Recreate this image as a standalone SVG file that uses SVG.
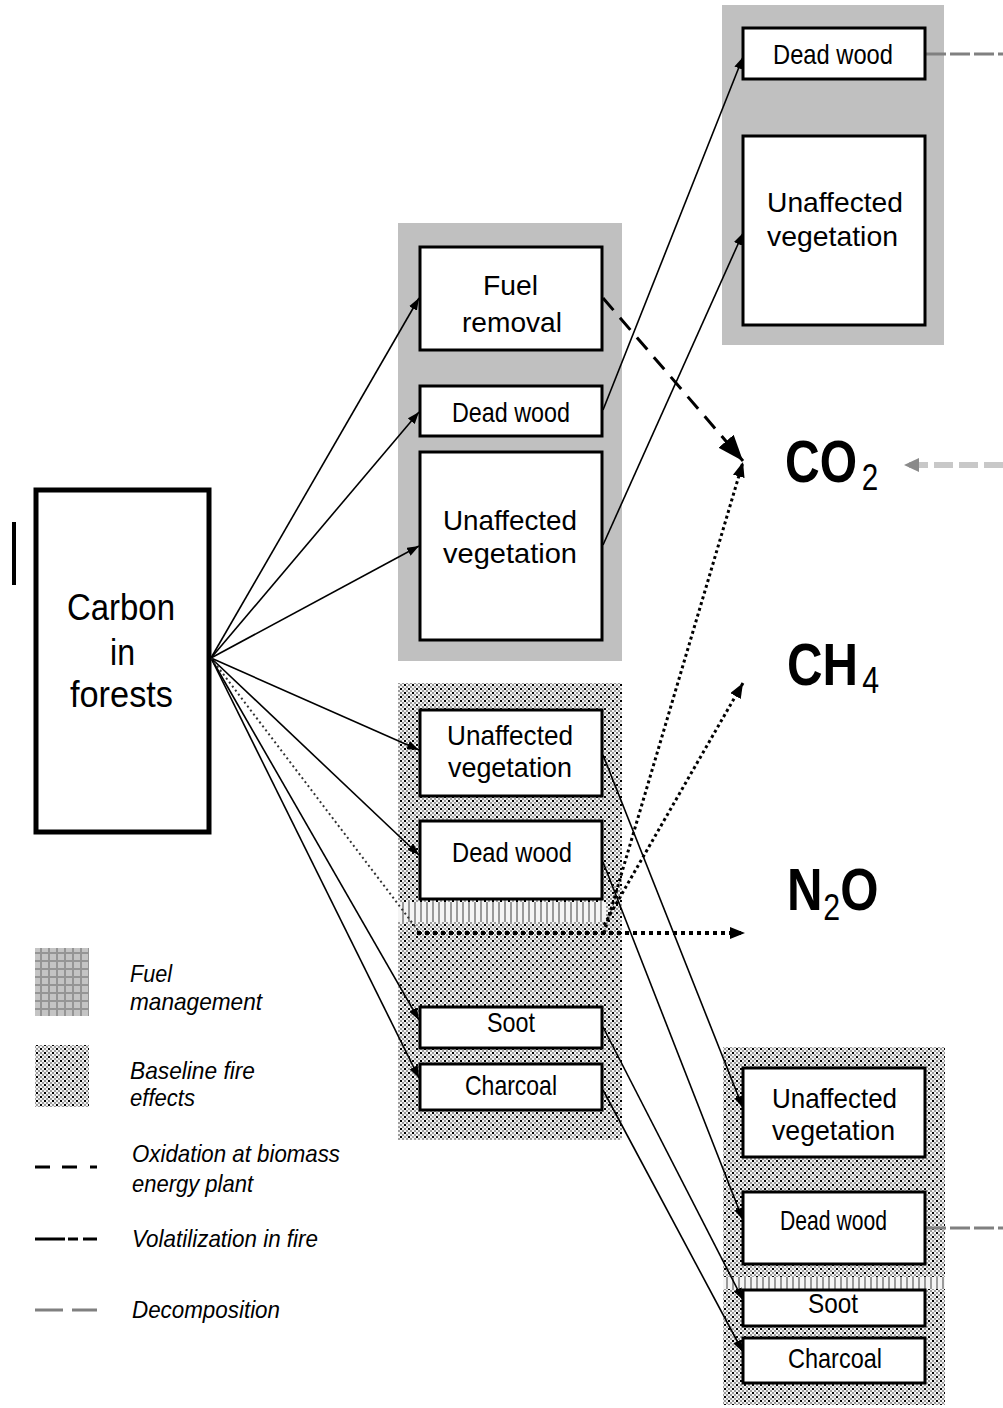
<svg xmlns="http://www.w3.org/2000/svg" width="1003" height="1408" viewBox="0 0 1003 1408">
  <defs>
    <style>
      .box{fill:#fff;stroke:#000;stroke-width:3}
      .src{fill:#fff;stroke:#000;stroke-width:5}
      .t{font-family:"Liberation Sans",Arial,sans-serif;font-size:28px;fill:#000}
      .big{font-family:"Liberation Sans",Arial,sans-serif;font-size:36px;fill:#000}
      .gas{font-family:"Liberation Sans",Arial,sans-serif;font-weight:bold;font-size:60px;fill:#000}
      .sub{font-size:37px;font-weight:normal}
      .leg{font-family:"Liberation Sans",Arial,sans-serif;font-style:italic;font-size:24px;fill:#000}
      .solid{fill:none;stroke:#000;stroke-width:1.6}
      .thin-dot{fill:none;stroke:#333;stroke-width:2;stroke-dasharray:2 3}
      .dot{fill:none;stroke:#000;stroke-width:3;stroke-dasharray:3 3}
      .heavy-dot{fill:none;stroke:#000;stroke-width:4;stroke-dasharray:4 4}
      .oxid{fill:none;stroke:#000;stroke-width:3;stroke-dasharray:16 10}
      .decay{fill:none;stroke:#808080;stroke-width:3;stroke-dasharray:20 4}
      .decay-in{fill:none;stroke:#c8c8c8;stroke-width:6;stroke-dasharray:19 6}
      .fuel{fill:#c0c0c0}
      .fire{fill:url(#fireHatch)}
    </style>
    <!-- baseline fire texture: fine grey checker with black specks -->
    <pattern id="fireHatch" width="8" height="8" patternUnits="userSpaceOnUse">
      <rect width="8" height="8" fill="#f4f4f4"/>
      <rect x="4" y="0" width="2" height="2" fill="#9c9c9c"/>
      <rect x="2" y="2" width="2" height="2" fill="#9c9c9c"/>
      <rect x="6" y="2" width="2" height="2" fill="#9c9c9c"/>
      <rect x="0" y="4" width="2" height="2" fill="#9c9c9c"/>
      <rect x="2" y="6" width="2" height="2" fill="#9c9c9c"/>
      <rect x="6" y="6" width="2" height="2" fill="#9c9c9c"/>
      <rect x="0" y="0" width="2" height="2" fill="#000"/>
      <rect x="4" y="4" width="2" height="2" fill="#000"/>
    </pattern>
    <!-- fuel management texture: grey with a darker grid -->
    <pattern id="fuelGrid" width="8" height="8" patternUnits="userSpaceOnUse">
      <rect width="8" height="8" fill="#c4c4c4"/>
      <rect x="0" y="0" width="2" height="8" fill="#959595"/>
      <rect x="0" y="0" width="8" height="2" fill="#959595"/>
    </pattern>
    <!-- vertical stripe band -->
    <pattern id="stripes" width="6" height="20" patternUnits="userSpaceOnUse">
      <rect width="6" height="20" fill="#f4f4f4"/>
      <rect x="0" y="0" width="2" height="20" fill="#9a9a9a"/>
    </pattern>
    <marker id="arr" markerUnits="userSpaceOnUse" markerWidth="12" markerHeight="9" refX="12" refY="4.5" orient="auto">
      <path d="M0,0 L12,4.5 L0,9 z" fill="#000"/>
    </marker>
    <marker id="arrDot" markerUnits="userSpaceOnUse" markerWidth="15" markerHeight="12" refX="15" refY="6" orient="auto">
      <path d="M0,0 L15,6 L0,12 z" fill="#000"/>
    </marker>
    <marker id="arrBig" markerUnits="userSpaceOnUse" markerWidth="26" markerHeight="20" refX="26" refY="10" orient="auto">
      <path d="M0,0 L26,10 L0,20 z" fill="#000"/>
    </marker>
    <marker id="arrGrey" markerUnits="userSpaceOnUse" markerWidth="15" markerHeight="14" refX="15" refY="7" orient="auto">
      <path d="M0,0 L15,7 L0,14 z" fill="#8a8a8a"/>
    </marker>
  </defs>

  <rect width="1003" height="1408" fill="#fff"/>

  <!-- background zones -->
  <g id="zones">
    <rect class="fuel" x="398" y="223" width="224" height="438"/>
    <rect class="fuel" x="722" y="5" width="222" height="340"/>
    <rect class="fire" x="398" y="683" width="224" height="457"/>
    <rect x="398" y="902" width="208" height="20" fill="url(#stripes)"/>
    <rect class="fire" x="723" y="1047" width="222" height="358"/>
    <rect x="723" y="1277" width="222" height="12" fill="url(#stripes)"/>
  </g>

  <!-- stray margin mark -->
  <line x1="14" y1="522" x2="14" y2="585" stroke="#000" stroke-width="4"/>

  <!-- flows -->
  <g id="connectors">
    <!-- from the forest carbon pool -->
    <line class="solid" x1="211" y1="658" x2="419" y2="298" marker-end="url(#arr)"/>
    <line class="solid" x1="211" y1="658" x2="419" y2="412" marker-end="url(#arr)"/>
    <line class="solid" x1="211" y1="658" x2="419" y2="546" marker-end="url(#arr)"/>
    <line class="solid" x1="211" y1="658" x2="419" y2="750" marker-end="url(#arr)"/>
    <line class="solid" x1="211" y1="658" x2="419" y2="855" marker-end="url(#arr)"/>
    <line class="solid" x1="211" y1="658" x2="419" y2="1020" marker-end="url(#arr)"/>
    <line class="solid" x1="211" y1="658" x2="419" y2="1078" marker-end="url(#arr)"/>
    <line class="thin-dot" x1="211" y1="658" x2="420" y2="933"/>

    <!-- fuel management to later pools -->
    <line class="solid" x1="603" y1="410" x2="743" y2="57" marker-end="url(#arr)"/>
    <line class="solid" x1="603" y1="545" x2="743" y2="233" marker-end="url(#arr)"/>
    <line class="oxid" x1="603" y1="298" x2="743" y2="461" marker-end="url(#arrBig)"/>

    <!-- baseline fire to later pools -->
    <line class="solid" x1="603" y1="755" x2="743" y2="1108" marker-end="url(#arr)"/>
    <line class="solid" x1="603" y1="862" x2="743" y2="1220" marker-end="url(#arr)"/>
    <line class="solid" x1="603" y1="1027" x2="743" y2="1300" marker-end="url(#arr)"/>
    <line class="solid" x1="603" y1="1090" x2="743" y2="1352" marker-end="url(#arr)"/>

    <!-- volatilization in fire -->
    <path class="heavy-dot" d="M417,933 H745" marker-end="url(#arrDot)"/>
    <line class="dot" x1="604" y1="933" x2="743" y2="462" marker-end="url(#arrDot)"/>
    <line class="dot" x1="604" y1="925" x2="743" y2="683" marker-end="url(#arrDot)"/>

    <!-- decomposition -->
    <line class="decay" x1="926" y1="54" x2="1003" y2="54"/>
    <line class="decay" x1="926" y1="1228" x2="1003" y2="1228"/>
    <line class="decay-in" x1="1003" y1="465" x2="904" y2="465" marker-end="url(#arrGrey)"/>
  </g>

  <g id="carbon-in-forests">
    <rect class="src" x="36" y="490" width="173" height="342"/>
    <text class="big" x="67" y="620" textLength="108" lengthAdjust="spacingAndGlyphs">Carbon</text>
    <text class="big" x="110" y="665" textLength="25" lengthAdjust="spacingAndGlyphs">in</text>
    <text class="big" x="70" y="707" textLength="103" lengthAdjust="spacingAndGlyphs">forests</text>
  </g>

  <g id="fuel-removal">
    <rect class="box" x="420" y="247" width="182" height="103"/>
    <text class="t" x="483" y="295" textLength="55" lengthAdjust="spacingAndGlyphs">Fuel</text>
    <text class="t" x="462" y="332" textLength="100" lengthAdjust="spacingAndGlyphs">removal</text>
  </g>
  <g id="fm-dead-wood">
    <rect class="box" x="420" y="386" width="182" height="50"/>
    <text class="t" x="452" y="422" textLength="118" lengthAdjust="spacingAndGlyphs">Dead wood</text>
  </g>
  <g id="fm-unaffected">
    <rect class="box" x="420" y="452" width="182" height="188"/>
    <text class="t" x="443" y="530" textLength="134" lengthAdjust="spacingAndGlyphs">Unaffected</text>
    <text class="t" x="443" y="563" textLength="134" lengthAdjust="spacingAndGlyphs">vegetation</text>
  </g>

  <g id="bf-unaffected">
    <rect class="box" x="420" y="710" width="182" height="86"/>
    <text class="t" x="447" y="745" textLength="126" lengthAdjust="spacingAndGlyphs">Unaffected</text>
    <text class="t" x="448" y="777" textLength="124" lengthAdjust="spacingAndGlyphs">vegetation</text>
  </g>
  <g id="bf-dead-wood">
    <rect class="box" x="420" y="821" width="182" height="78"/>
    <text class="t" x="452" y="862" textLength="120" lengthAdjust="spacingAndGlyphs">Dead wood</text>
  </g>
  <g id="bf-soot">
    <rect class="box" x="420" y="1007" width="182" height="41"/>
    <text class="t" x="487" y="1032" textLength="48" lengthAdjust="spacingAndGlyphs">Soot</text>
  </g>
  <g id="bf-charcoal">
    <rect class="box" x="420" y="1064" width="182" height="46"/>
    <text class="t" x="465" y="1095" textLength="92" lengthAdjust="spacingAndGlyphs">Charcoal</text>
  </g>

  <g id="fm2-dead-wood">
    <rect class="box" x="743" y="28" width="182" height="51"/>
    <text class="t" x="773" y="64" textLength="120" lengthAdjust="spacingAndGlyphs">Dead wood</text>
  </g>
  <g id="fm2-unaffected">
    <rect class="box" x="743" y="136" width="182" height="189"/>
    <text class="t" x="767" y="212" textLength="136" lengthAdjust="spacingAndGlyphs">Unaffected</text>
    <text class="t" x="767" y="246" textLength="131" lengthAdjust="spacingAndGlyphs">vegetation</text>
  </g>

  <g id="bf2-unaffected">
    <rect class="box" x="743" y="1068" width="182" height="89"/>
    <text class="t" x="772" y="1108" textLength="125" lengthAdjust="spacingAndGlyphs">Unaffected</text>
    <text class="t" x="772" y="1140" textLength="123" lengthAdjust="spacingAndGlyphs">vegetation</text>
  </g>
  <g id="bf2-dead-wood">
    <rect class="box" x="743" y="1192" width="182" height="72"/>
    <text class="t" x="780" y="1230" textLength="107" lengthAdjust="spacingAndGlyphs">Dead wood</text>
  </g>
  <g id="bf2-soot">
    <rect class="box" x="743" y="1290" width="182" height="36"/>
    <text class="t" x="808" y="1313" textLength="50" lengthAdjust="spacingAndGlyphs">Soot</text>
  </g>
  <g id="bf2-charcoal">
    <rect class="box" x="743" y="1338" width="182" height="45"/>
    <text class="t" x="788" y="1368" textLength="94" lengthAdjust="spacingAndGlyphs">Charcoal</text>
  </g>

  <!-- gases, narrowed horizontally -->
  <g id="co2">
    <text class="gas" transform="translate(785,482) scale(0.8,1)">CO<tspan class="sub" dx="6" dy="8">2</tspan></text>
  </g>
  <g id="ch4">
    <text class="gas" transform="translate(787,685) scale(0.82,1)">CH<tspan class="sub" dx="5" dy="8">4</tspan></text>
  </g>
  <g id="n2o">
    <text class="gas" transform="translate(787,910) scale(0.82,1)">N<tspan class="sub" dx="1" dy="10">2</tspan><tspan dy="-10">O</tspan></text>
  </g>

  <!-- key -->
  <g id="legend">
    <rect x="35" y="948" width="54" height="68" fill="url(#fuelGrid)"/>
    <text class="leg" x="130" y="982" textLength="42" lengthAdjust="spacingAndGlyphs">Fuel</text>
    <text class="leg" x="130" y="1010" textLength="132" lengthAdjust="spacingAndGlyphs">management</text>

    <rect x="35" y="1045" width="54" height="62" fill="url(#fireHatch)"/>
    <text class="leg" x="130" y="1079" textLength="125" lengthAdjust="spacingAndGlyphs">Baseline fire</text>
    <text class="leg" x="130" y="1106" textLength="65" lengthAdjust="spacingAndGlyphs">effects</text>

    <path d="M35,1167 H50 M62,1167 H77 M90,1167 H97" stroke="#000" stroke-width="3" fill="none"/>
    <text class="leg" x="132" y="1162" textLength="208" lengthAdjust="spacingAndGlyphs">Oxidation at biomass</text>
    <text class="leg" x="132" y="1192" textLength="121" lengthAdjust="spacingAndGlyphs">energy plant</text>

    <path d="M35,1239 H65 M68,1239 H78 M83,1239 H97" stroke="#000" stroke-width="3" fill="none"/>
    <text class="leg" x="132" y="1247" textLength="186" lengthAdjust="spacingAndGlyphs">Volatilization in fire</text>

    <path d="M35,1310 H63 M72,1310 H97" stroke="#808080" stroke-width="3" fill="none"/>
    <text class="leg" x="132" y="1318" textLength="148" lengthAdjust="spacingAndGlyphs">Decomposition</text>
  </g>
</svg>
